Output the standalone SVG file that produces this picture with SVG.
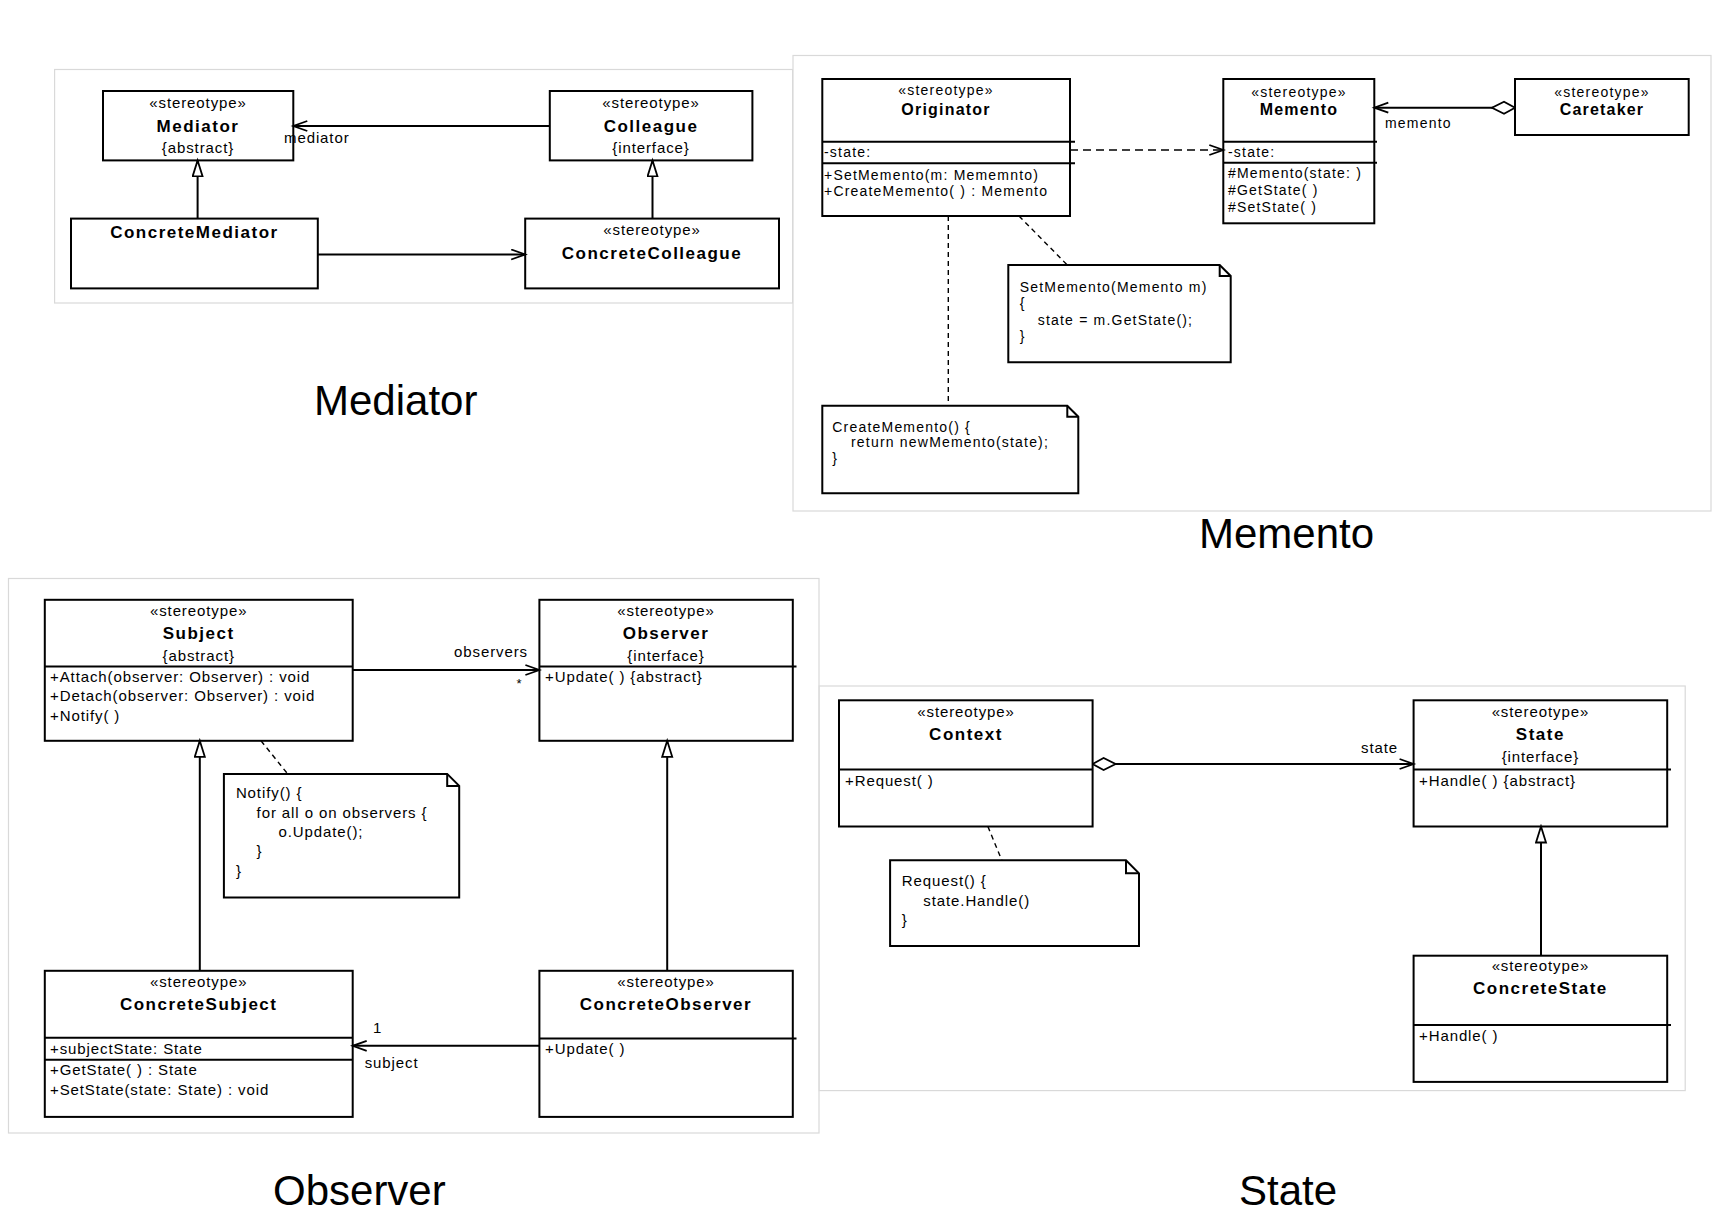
<svg xmlns="http://www.w3.org/2000/svg" width="1712" height="1224" viewBox="0 0 1712 1224">
<style>
text{font-family:"Liberation Sans",Arial,sans-serif;fill:#000}
.panel{fill:#fff;stroke:#d9d9d9;stroke-width:1.2}
.box{fill:#fff;stroke:#000;stroke-width:2}
.div{stroke:#000;stroke-width:2;fill:none}
.note{fill:#fff;stroke:#000;stroke-width:2}
.ln{stroke:#000;stroke-width:2;fill:none}
.dash{stroke:#000;stroke-width:1.6;fill:none;stroke-dasharray:8 5}
.ndash{stroke:#000;stroke-width:1.4;fill:none;stroke-dasharray:5 4}
.st{font-size:15px;letter-spacing:0.9px;text-anchor:middle}
.nm{font-size:17px;font-weight:bold;letter-spacing:1.5px;text-anchor:middle}
.mb{font-size:15px;letter-spacing:0.9px}
.st2{font-size:14px;letter-spacing:1.2px;text-anchor:middle}
.nm2{font-size:16px;font-weight:bold;letter-spacing:1.2px;text-anchor:middle}
.mb2{font-size:14px;letter-spacing:1.2px}
.lb{font-size:15px;letter-spacing:0.9px}
.title{font-size:42px}
</style>
<defs>
<marker id="open" markerUnits="userSpaceOnUse" markerWidth="18" markerHeight="14" refX="15" refY="6" orient="auto">
<path d="M1,1 L15,6 L1,11" fill="none" stroke="#000" stroke-width="1.8" stroke-dasharray="none"/>
</marker>
<marker id="tri" markerUnits="userSpaceOnUse" markerWidth="20" markerHeight="14" refX="17" refY="6" orient="auto">
<path d="M1,1 L17,6 L1,11 Z" fill="#fff" stroke="#000" stroke-width="1.8"/>
</marker>
<marker id="dia" markerUnits="userSpaceOnUse" markerWidth="28" markerHeight="16" refX="1" refY="7" orient="auto">
<path d="M1,7 L12,1 L24,7 L12,13 Z" fill="#fff" stroke="#000" stroke-width="1.8"/>
</marker>
</defs>
<rect x="0" y="0" width="1712" height="1224" fill="#fff"/>

<!-- Panels -->
<rect class="panel" x="54.6" y="69.5" width="738" height="233.5"/>
<rect class="panel" x="793" y="55.5" width="918" height="455.5"/>
<rect class="panel" x="8.5" y="578.5" width="810.5" height="554.5"/>
<rect class="panel" x="819.2" y="686" width="866" height="404.6"/>

<!-- Titles -->
<text class="title" x="314" y="415">Mediator</text>
<text class="title" x="1199" y="548">Memento</text>
<text class="title" x="273" y="1205">Observer</text>
<text class="title" x="1239" y="1205">State</text>

<!-- ===== Mediator ===== -->
<g id="mediator">
<rect class="box" x="103" y="91" width="190.3" height="69.4"/>
<text class="st" x="198" y="107.5">«stereotype»</text>
<text class="nm" x="198" y="131.5">Mediator</text>
<text class="st" x="198" y="152.5">{abstract}</text>
</g>
<g id="colleague">
<rect class="box" x="549.8" y="91" width="202.6" height="69.4"/>
<text class="st" x="651" y="107.5">«stereotype»</text>
<text class="nm" x="651" y="131.5">Colleague</text>
<text class="st" x="651" y="152.5">{interface}</text>
</g>
<g id="concreteMediator">
<rect class="box" x="71" y="218.6" width="246.8" height="69.8"/>
<text class="nm" x="194.4" y="237.5">ConcreteMediator</text>
</g>
<g id="concreteColleague">
<rect class="box" x="525.2" y="218.6" width="253.8" height="69.8"/>
<text class="st" x="652" y="235">«stereotype»</text>
<text class="nm" x="652" y="258.5">ConcreteColleague</text>
</g>

<!-- ===== Memento ===== -->
<g id="originator">
<rect class="box" x="822.3" y="79" width="247.7" height="137"/>
<line class="div" x1="822.3" y1="141.7" x2="1075" y2="141.7"/>
<line class="div" x1="822.3" y1="163.3" x2="1075" y2="163.3"/>
<text class="st2" x="946" y="95">«stereotype»</text>
<text class="nm2" x="946" y="115">Originator</text>
<text class="mb2" x="824" y="157">-state:</text>
<text class="mb2" x="824" y="179.5">+SetMemento(m: Mememnto)</text>
<text class="mb2" x="824" y="196">+CreateMemento( ) : Memento</text>
</g>
<g id="memento">
<rect class="box" x="1223.3" y="79" width="151" height="144.3"/>
<line class="div" x1="1223.3" y1="141.7" x2="1377" y2="141.7"/>
<line class="div" x1="1223.3" y1="162.7" x2="1377" y2="162.7"/>
<text class="st2" x="1299" y="96.5">«stereotype»</text>
<text class="nm2" x="1299" y="115">Memento</text>
<text class="mb2" x="1228" y="157">-state:</text>
<text class="mb2" x="1228" y="178.3">#Memento(state: )</text>
<text class="mb2" x="1228" y="195">#GetState( )</text>
<text class="mb2" x="1228" y="211.7">#SetState( )</text>
</g>
<g id="caretaker">
<rect class="box" x="1515" y="79" width="173.7" height="56"/>
<text class="st2" x="1602" y="96.5">«stereotype»</text>
<text class="nm2" x="1602" y="115">Caretaker</text>
</g>
<g id="noteSetMemento">
<path class="note" d="M1008.3,265 H1219.7 L1230.7,276 V362.3 H1008.3 Z"/>
<path class="div" d="M1219.7,265 V276 H1230.7" stroke-width="1.5"/>
<text class="mb2" x="1019.7" y="291.7">SetMemento(Memento m)</text>
<text class="mb2" x="1019.7" y="308">{</text>
<text class="mb2" x="1037.7" y="325">state = m.GetState();</text>
<text class="mb2" x="1019.7" y="341">}</text>
</g>
<g id="noteCreateMemento">
<path class="note" d="M822.3,405.7 H1067.3 L1078.3,416.7 V493.3 H822.3 Z"/>
<path class="div" d="M1067.3,405.7 V416.7 H1078.3" stroke-width="1.5"/>
<text class="mb2" x="832.3" y="431.7">CreateMemento() {</text>
<text class="mb2" x="851" y="447">return newMemento(state);</text>
<text class="mb2" x="832.3" y="463.3">}</text>
</g>

<!-- ===== Observer ===== -->
<g id="subject">
<rect class="box" x="44.8" y="599.8" width="307.9" height="141"/>
<line class="div" x1="44.8" y1="666.5" x2="352.7" y2="666.5"/>
<text class="st" x="198.7" y="616">«stereotype»</text>
<text class="nm" x="198.7" y="639">Subject</text>
<text class="st" x="198.7" y="660.5">{abstract}</text>
<text class="mb" x="50" y="682">+Attach(observer: Observer) : void</text>
<text class="mb" x="50" y="701">+Detach(observer: Observer) : void</text>
<text class="mb" x="50" y="720.5">+Notify( )</text>
</g>
<g id="observer">
<rect class="box" x="539.4" y="599.8" width="253.4" height="141"/>
<line class="div" x1="539.4" y1="666.5" x2="796.5" y2="666.5"/>
<text class="st" x="666" y="616">«stereotype»</text>
<text class="nm" x="666" y="639">Observer</text>
<text class="st" x="666" y="660.5">{interface}</text>
<text class="mb" x="545" y="682">+Update( ) {abstract}</text>
</g>
<g id="concreteSubject">
<rect class="box" x="44.8" y="970.8" width="307.9" height="146.1"/>
<line class="div" x1="44.8" y1="1037.7" x2="352.7" y2="1037.7"/>
<line class="div" x1="44.8" y1="1059.7" x2="352.7" y2="1059.7"/>
<text class="st" x="198.7" y="987">«stereotype»</text>
<text class="nm" x="198.7" y="1010">ConcreteSubject</text>
<text class="mb" x="50" y="1053.5">+subjectState: State</text>
<text class="mb" x="50" y="1075">+GetState( ) : State</text>
<text class="mb" x="50" y="1094.5">+SetState(state: State) : void</text>
</g>
<g id="concreteObserver">
<rect class="box" x="539.4" y="970.8" width="253.4" height="146.1"/>
<line class="div" x1="539.4" y1="1038.6" x2="796.5" y2="1038.6"/>
<text class="st" x="666" y="987">«stereotype»</text>
<text class="nm" x="666" y="1010">ConcreteObserver</text>
<text class="mb" x="545" y="1054">+Update( )</text>
</g>
<g id="noteNotify">
<path class="note" d="M223.9,773.9 H447.2 L459.2,785.9 V897.5 H223.9 Z"/>
<path class="div" d="M447.2,773.9 V785.9 H459.2" stroke-width="1.5"/>
<text class="mb" x="235.9" y="798">Notify() {</text>
<text class="mb" x="256.6" y="817.5">for all o on observers {</text>
<text class="mb" x="278.5" y="836.5">o.Update();</text>
<text class="mb" x="256.6" y="856">}</text>
<text class="mb" x="235.9" y="875.5">}</text>
</g>

<!-- ===== State ===== -->
<g id="context">
<rect class="box" x="839" y="700.3" width="253.6" height="126.2"/>
<line class="div" x1="839" y1="769.5" x2="1092.6" y2="769.5"/>
<text class="st" x="966" y="717">«stereotype»</text>
<text class="nm" x="966" y="740">Context</text>
<text class="mb" x="845" y="786">+Request( )</text>
</g>
<g id="state">
<rect class="box" x="1413.6" y="700.3" width="253.6" height="126.2"/>
<line class="div" x1="1413.6" y1="769.5" x2="1671" y2="769.5"/>
<text class="st" x="1540.4" y="717">«stereotype»</text>
<text class="nm" x="1540.4" y="740">State</text>
<text class="st" x="1540.4" y="762">{interface}</text>
<text class="mb" x="1419" y="786">+Handle( ) {abstract}</text>
</g>
<g id="concreteState">
<rect class="box" x="1413.6" y="955.7" width="253.6" height="126.2"/>
<line class="div" x1="1413.6" y1="1025" x2="1671" y2="1025"/>
<text class="st" x="1540.4" y="971">«stereotype»</text>
<text class="nm" x="1540.4" y="994">ConcreteState</text>
<text class="mb" x="1419" y="1041">+Handle( )</text>
</g>
<g id="noteRequest">
<path class="note" d="M890.1,860.3 H1126 L1139,873.3 V946 H890.1 Z"/>
<path class="div" d="M1126,860.3 V873.3 H1139" stroke-width="1.5"/>
<text class="mb" x="901.8" y="886">Request() {</text>
<text class="mb" x="923.3" y="906">state.Handle()</text>
<text class="mb" x="901.8" y="925">}</text>
</g>

<!-- ===== Connectors ===== -->
<g id="connectors">
<!-- Mediator -->
<line class="ln" x1="549.8" y1="126" x2="293.3" y2="126" marker-end="url(#open)"/>
<line class="ln" x1="317.8" y1="254.5" x2="525.2" y2="254.5" marker-end="url(#open)"/>
<line class="ln" x1="197.6" y1="218.6" x2="197.6" y2="160.4" marker-end="url(#tri)"/>
<line class="ln" x1="652.5" y1="218.6" x2="652.5" y2="160.4" marker-end="url(#tri)"/>
<!-- Memento -->
<line class="ln" x1="1515" y1="107.7" x2="1374.3" y2="107.7" marker-start="url(#dia)" marker-end="url(#open)"/>
<line class="dash" x1="1070" y1="150" x2="1223.3" y2="150" marker-end="url(#open)"/>
<line class="ndash" x1="948.3" y1="216" x2="948.3" y2="405.7"/>
<line class="ndash" x1="1019" y1="216" x2="1067.3" y2="265"/>
<!-- Observer -->
<line class="ln" x1="352.7" y1="670" x2="539.4" y2="670" marker-end="url(#open)"/>
<line class="ln" x1="539.4" y1="1045.8" x2="352.7" y2="1045.8" marker-end="url(#open)"/>
<line class="ln" x1="199.8" y1="970.8" x2="199.8" y2="740.8" marker-end="url(#tri)"/>
<line class="ln" x1="667.2" y1="970.8" x2="667.2" y2="740.8" marker-end="url(#tri)"/>
<line class="ndash" x1="261" y1="740.8" x2="287.7" y2="773.9"/>
<!-- State -->
<line class="ln" x1="1092.6" y1="764" x2="1413.6" y2="764" marker-start="url(#dia)" marker-end="url(#open)"/>
<line class="ln" x1="1541" y1="955.7" x2="1541" y2="826.5" marker-end="url(#tri)"/>
<line class="ndash" x1="987.9" y1="826.5" x2="1001.8" y2="860.3"/>
</g>

<!-- Connector labels -->
<g id="labels">
<text class="lb" x="284" y="143.3">mediator</text>
<text class="mb2" x="1385" y="128.3">memento</text>
<text class="lb" x="454" y="656.7">observers</text>
<text x="519" y="688" font-size="13" text-anchor="middle">*</text>
<text class="lb" x="373" y="1032.5">1</text>
<text class="lb" x="364.7" y="1068">subject</text>
<text class="lb" x="1361" y="752.7">state</text>
</g>
</svg>
